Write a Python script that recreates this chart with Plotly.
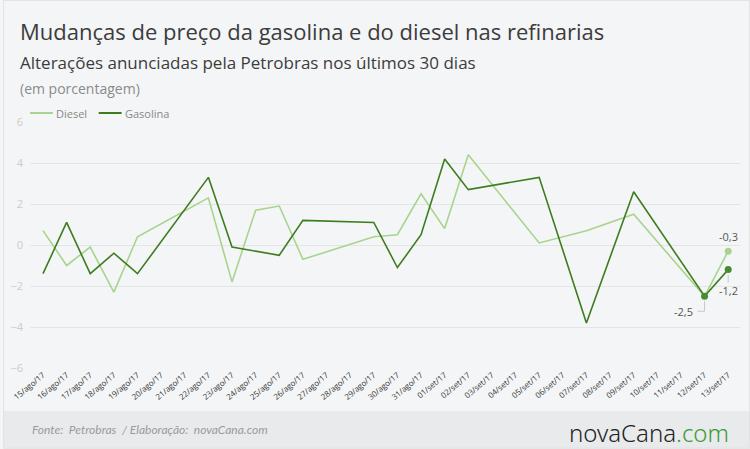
import plotly.graph_objects as go

dates = ["15/ago/17", "16/ago/17", "17/ago/17", "18/ago/17", "19/ago/17", "20/ago/17",
         "21/ago/17", "22/ago/17", "23/ago/17", "24/ago/17", "25/ago/17", "26/ago/17",
         "27/ago/17", "28/ago/17", "29/ago/17", "30/ago/17", "31/ago/17",
         "01/set/17", "02/set/17", "03/set/17", "04/set/17", "05/set/17", "06/set/17",
         "07/set/17", "08/set/17", "09/set/17", "10/set/17", "11/set/17", "12/set/17",
         "13/set/17"]

diesel = [0.7, -1.0, -0.1, -2.3, 0.4, None, None, 2.3, -1.8, 1.7, 1.9, -0.7,
          None, None, 0.4, 0.5, 2.5, 0.8, 4.4, None, None, 0.1, None, 0.7, None,
          1.5, None, None, -2.5, -0.3]

gasolina = [-1.4, 1.1, -1.4, -0.4, -1.4, None, None, 3.3, -0.1, None, -0.5, 1.2,
            None, None, 1.1, -1.1, 0.5, 4.2, 2.7, None, None, 3.3, None, -3.8, None,
            2.6, None, None, -2.5, -1.2]

series_names = ["Diesel", "Gasolina"]
y_ticks = [-6, -4, -2, 0, 2, 4, 6]

C_DIESEL = "#a8d48e"
C_GAS = "#3d7d1f"
C_GAS_DOT = "#4a8a30"

W, H = 750, 449
ML, MR, MT, MB = 27, 10, 122, 81
PW = W - ML - MR
PH = H - MT - MB


def px2x(px):
    return (px - ML) / PW


def px2y(py):
    return (H - MB - py) / PH


def fmt(v):
    return f"{v:.1f}".replace(".", ",")


fig = go.Figure()
fig.add_trace(go.Scatter(x=dates, y=diesel, name=series_names[0], mode="lines",
                         connectgaps=True, line=dict(color=C_DIESEL, width=1.6)))
fig.add_trace(go.Scatter(x=dates, y=gasolina, name=series_names[1], mode="lines",
                         connectgaps=True, line=dict(color=C_GAS, width=1.6)))
# end markers
fig.add_trace(go.Scatter(x=[dates[-1]], y=[diesel[-1]], mode="markers", showlegend=False,
                         marker=dict(color=C_DIESEL, size=7), hoverinfo="skip"))
fig.add_trace(go.Scatter(x=dates[-2:], y=gasolina[-2:], mode="markers", showlegend=False,
                         marker=dict(color=C_GAS_DOT, size=7), hoverinfo="skip"))

shapes = []
# footer band
shapes.append(dict(type="rect", xref="paper", yref="paper", x0=px2x(0), x1=px2x(W),
                   y0=px2y(411), y1=px2y(H), fillcolor="#e9eaeb", line=dict(width=0),
                   layer="below"))
# outer border
shapes.append(dict(type="rect", xref="paper", yref="paper", x0=px2x(0.5), x1=px2x(W - 0.5),
                   y0=px2y(0.5), y1=px2y(H - 1), fillcolor="rgba(0,0,0,0)",
                   line=dict(width=1, color="#e2e3e4"), layer="below"))
# legend samples
for (x0, x1), col in zip([(27, 50), (96, 119)], [C_DIESEL, C_GAS]):
    shapes.append(dict(type="line", xref="paper", yref="paper", x0=px2x(x0), x1=px2x(x1),
                       y0=px2y(113), y1=px2y(113), line=dict(color=col, width=2)))
# leader lines
lead = dict(color="#c8c8c8", width=1)
shapes.append(dict(type="line", xref="x", yref="y", xsizemode="pixel", ysizemode="pixel",
                   xanchor=dates[-1], yanchor=gasolina[-1], x0=0, x1=0, y0=-5, y1=-13,
                   line=lead))
shapes.append(dict(type="line", xref="x", yref="y", xsizemode="pixel", ysizemode="pixel",
                   xanchor=dates[-2], yanchor=gasolina[-2], x0=0, x1=0, y0=-5, y1=-15,
                   line=lead))
shapes.append(dict(type="line", xref="x", yref="y", xsizemode="pixel", ysizemode="pixel",
                   xanchor=dates[-2], yanchor=gasolina[-2], x0=0, x1=-7, y0=-15, y1=-15,
                   line=lead))

FONT = "Open Sans"
annotations = [
    dict(text="Mudanças de preço da gasolina e do diesel nas refinarias", xref="paper",
         yref="paper", x=px2x(15), y=px2y(31), xanchor="left", yanchor="middle",
         showarrow=False, font=dict(family=FONT, size=22, color="#3c3c3c", weight=500)),
    dict(text="Alterações anunciadas pela Petrobras nos últimos 30 dias", xref="paper",
         yref="paper", x=px2x(15), y=px2y(62), xanchor="left", yanchor="middle",
         showarrow=False, font=dict(family=FONT, size=17, color="#3c3c3c")),
    dict(text="(em porcentagem)", xref="paper", yref="paper", x=px2x(15), y=px2y(88),
         xanchor="left", yanchor="middle", showarrow=False,
         font=dict(family=FONT, size=14, color="#8a8a8a")),
    dict(text=series_names[0], xref="paper", yref="paper", x=px2x(51), y=px2y(113),
         xanchor="left", yanchor="middle", showarrow=False,
         font=dict(family=FONT, size=11, color="#888888")),
    dict(text=series_names[1], xref="paper", yref="paper", x=px2x(120), y=px2y(113),
         xanchor="left", yanchor="middle", showarrow=False,
         font=dict(family=FONT, size=11, color="#888888")),
    dict(text="<i>Fonte:  Petrobras  / Elaboração:  novaCana.com</i>", xref="paper",
         yref="paper", x=px2x(27), y=px2y(429), xanchor="left", yanchor="middle",
         showarrow=False, font=dict(family="Lato", size=12, color="#9a9a9a")),
    dict(text="novaCana<span style='color:#3a9b3a'>.com</span>", xref="paper",
         yref="paper", x=px2x(731), y=px2y(432), xanchor="right", yanchor="middle",
         showarrow=False, font=dict(family="Noto Sans", size=24, color="#222222",
                                    weight=300)),
    dict(text=fmt(diesel[-1]), x=dates[-1], y=diesel[-1], xref="x", yref="y",
         showarrow=False, yshift=15, font=dict(family=FONT, size=11, color="#555")),
    dict(text=fmt(gasolina[-1]), x=dates[-1], y=gasolina[-1], xref="x", yref="y",
         showarrow=False, yshift=-21, font=dict(family=FONT, size=11, color="#555")),
    dict(text=fmt(gasolina[-2]), x=dates[-2], y=gasolina[-2], xref="x", yref="y",
         showarrow=False, yshift=-15, xshift=-10, xanchor="right",
         font=dict(family=FONT, size=11, color="#555")),
]

fig.update_layout(
    width=W, height=H,
    margin=dict(l=ML, r=MR, t=MT, b=MB, pad=0),
    paper_bgcolor="#f4f5f6", plot_bgcolor="#f4f5f6",
    font=dict(family=FONT),
    showlegend=False,
    xaxis=dict(type="category", categoryarray=dates, range=[-0.55, 29.5],
               showgrid=False, zeroline=False, showline=False, ticks="",
               tickangle=-40, tickfont=dict(family=FONT, size=8, color="#333")),
    yaxis=dict(range=[-6, 6], tickvals=y_ticks, showgrid=True, gridcolor="#e3e5e7",
               gridwidth=1, zeroline=True, zerolinecolor="#e3e5e7", zerolinewidth=1,
               showline=False, ticks="", tickfont=dict(family=FONT, size=11, color="#cccccc"),
               ticklabelstandoff=6),
    shapes=shapes,
    annotations=annotations,
)

fig.write_html("out.html")
